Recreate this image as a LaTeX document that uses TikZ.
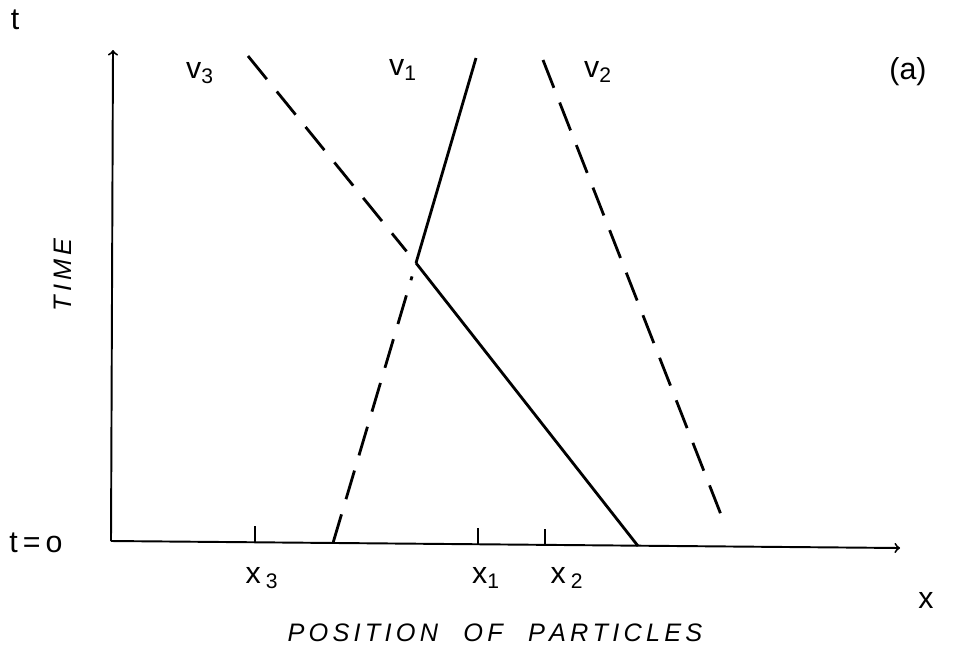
\documentclass[tikz,border=0pt]{standalone}
\usepackage{fontspec}
\setmainfont{Liberation Sans}
\usepackage{tikz}
\usetikzlibrary{arrows,positioning}

\begin{document}
\begin{tikzpicture}[
    x=0.02cm, y=-0.02cm,
    axis/.style={->, >=to, line width=1.1pt},
    world/.style={line width=1.6pt},
    ghost/.style={line width=1.6pt, dash pattern=on 17pt off 9pt},
    lbl/.style={font=\LARGE},
    sub/.style={font=\Large\itshape}
]
\useasboundingbox (0,0) rectangle (979,656);

% Axes
\coordinate (O) at (111,541);
\coordinate (tEnd) at (113,50);
\coordinate (xEnd) at (900,548);
\draw[axis] (O) -- (tEnd);
\draw[axis] (O) -- (xEnd);

% Ticks at the initial positions
\coordinate (x3) at (255,542);
\coordinate (x1) at (478,544);
\coordinate (x2) at (545,545);
\draw[line width=1.1pt] (x3) -- ++(0,-16);
\draw[line width=1.1pt] (x1) -- ++(0,-16);
\draw[line width=1.1pt] (x2) -- ++(0,-16);

% World lines
\coordinate (meet) at (416,263);
\coordinate (v3top) at (248,56);
\coordinate (v3bot) at (638,546);
\coordinate (v1top) at (476,58);
\coordinate (v1bot) at (333,543);
\coordinate (v2top) at (543,60);
\coordinate (v2bot) at (727,530);

\draw[ghost, shorten >=0.3cm] (v3top) -- (meet);
\draw[world] (meet) -- (v3bot);
\draw[world] (meet) -- (v1top);
\draw[ghost, shorten >=0.28cm] (v1bot) -- (meet);
\draw[ghost, shorten >=0.2cm] (v2top) -- (v2bot);

% Labels
\node[lbl] (tlab) at (15,20) {t};
\node[lbl] (t0lab) at (36,543) {t\,=\,o};
\node[lbl] (xlab) at (926,600) {x};
\node[lbl] (alab) at (908,72) {(a)};
\node[lbl] (v3lab) at (200,73) {v\textsubscript{3}};
\node[lbl] (v1lab) at (403,70) {v\textsubscript{1}};
\node[lbl] (v2lab) at (598,72) {v\textsubscript{2}};
\node[lbl] (x3lab) at (262,578) {x\,\textsubscript{3}};
\node[lbl] (x1lab) at (486,578) {x\textsubscript{1}};
\node[lbl] (x2lab) at (567,578) {x\,\textsubscript{2}};
\node[sub, rotate=90] (timelab) at (63,275) {T\,I\,M\,E};
\node[sub] (poslab) at (495,633) {P\,O\,S\,I\,T\,I\,O\,N\quad O\,F\quad P\,A\,R\,T\,I\,C\,L\,E\,S};

\end{tikzpicture}
\end{document}
